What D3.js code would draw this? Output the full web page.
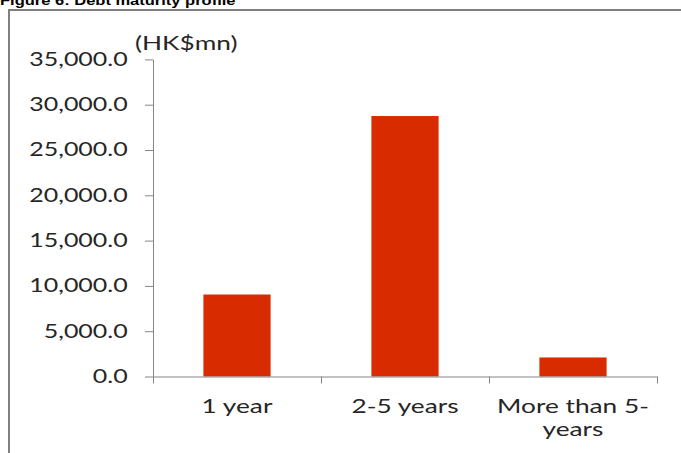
<!DOCTYPE html>
<html>
<head>
<meta charset="utf-8">
<script src="https://cdn.jsdelivr.net/npm/d3@7"></script>
<style>
  body { margin: 0; background: #fff; }
  svg { display: block; }
  .lbl { font-family: Lato, "Open Sans", sans-serif; font-size: 18.5px; fill: #262626; }
</style>
</head>
<body>
<div id="chart"></div>
<script>
// ---- data ----
const categories = ['1 year', '2-5 years', 'More than 5-years'];
const debtValues = [9050, 28750, 2100];
const yTicks = [0, 5000, 10000, 15000, 20000, 25000, 30000, 35000];
const title = 'Figure 6: Debt maturity profile';
const unitLabel = '(HK$mn)';

const W = 681, H = 453;
const SX = 1.27;     // picture is stretched sideways
const SX_NUM = 1.35; // tick numbers
const SX_TXT = 1.42; // word labels

const svg = d3.select('#chart').append('svg')
  .attr('width', W)
  .attr('height', H);

// frame (runs off right / bottom)
svg.append('rect')
  .attr('x', 9).attr('y', 10)
  .attr('width', W + 20).attr('height', H + 20)
  .attr('fill', 'none')
  .attr('stroke', '#808080')
  .attr('stroke-width', 2);

// title, clipped at top like the source
svg.append('text')
  .attr('transform', `translate(0,5) scale(${SX},1)`)
  .style('font-family', 'Arial, "Liberation Sans", sans-serif')
  .style('font-weight', 'bold')
  .style('font-size', '13px')
  .attr('fill', '#000')
  .text(title);

const plot = { left: 153, right: 657, top: 59.4, bottom: 376.5 };

const y = d3.scaleLinear()
  .domain([0, 35000])
  .range([plot.bottom, plot.top]);

const x = d3.scaleBand()
  .domain(categories)
  .range([plot.left, plot.right])
  .paddingInner(0.6)
  .paddingOuter(0.3);

// bars
svg.append('g')
  .selectAll('rect')
  .data(categories)
  .enter().append('rect')
  .attr('x', d => x(d))
  .attr('width', x.bandwidth())
  .attr('y', (d, i) => y(debtValues[i]))
  .attr('height', (d, i) => y(0) - y(debtValues[i]))
  .attr('fill', '#d92b00');

// y axis
const yAxis = svg.append('g')
  .attr('transform', `translate(${plot.left},0)`)
  .call(d3.axisLeft(y).tickValues(yTicks).tickFormat(d3.format(',.1f')).tickSize(8).tickSizeOuter(0));
yAxis.select('.domain').attr('stroke', '#868686');
yAxis.selectAll('.tick line').attr('stroke', '#868686');
yAxis.selectAll('.tick text')
  .attr('class', 'lbl')
  .attr('x', null)
  .attr('transform', `translate(-25.3,0) scale(${SX_NUM},1)`);

// x axis: boundary ticks
const xEdge = d3.scaleLinear().domain([0, categories.length]).range([plot.left, plot.right]);
const xAxis = svg.append('g')
  .attr('transform', `translate(0,${plot.bottom})`)
  .call(d3.axisBottom(xEdge).tickValues(d3.range(categories.length + 1)).tickFormat('').tickSize(7).tickSizeOuter(0));
xAxis.select('.domain').attr('stroke', '#868686');
xAxis.selectAll('.tick line').attr('stroke', '#868686');

// category labels, wrapped at hyphen if too wide
const cat = svg.append('g')
  .attr('transform', `translate(0,${plot.bottom})`)
  .call(d3.axisBottom(x).tickSize(0))
  .call(g => g.select('.domain').remove());
cat.selectAll('.tick text').each(function(d) {
  const t = d3.select(this);
  t.attr('class', 'lbl').attr('y', null).attr('dy', null)
    .attr('transform', `translate(0,36.2) scale(${SX_TXT},1)`);
  let lines = [d];
  t.text(d);
  if (this.getComputedTextLength() * SX_TXT > x.step() * 0.95) {
    const k = d.lastIndexOf('-') + 1;
    lines = [d.slice(0, k), d.slice(k)];
  }
  t.text('');
  lines.forEach((ln, i) => {
    t.append('tspan').attr('x', 0).attr('dy', i ? 23.5 : 0).text(ln);
  });
});

// unit label
svg.append('text')
  .attr('class', 'lbl')
  .attr('transform', `translate(135,50) scale(${SX_TXT},1)`)
  .text(unitLabel);
</script>
</body>
</html>
